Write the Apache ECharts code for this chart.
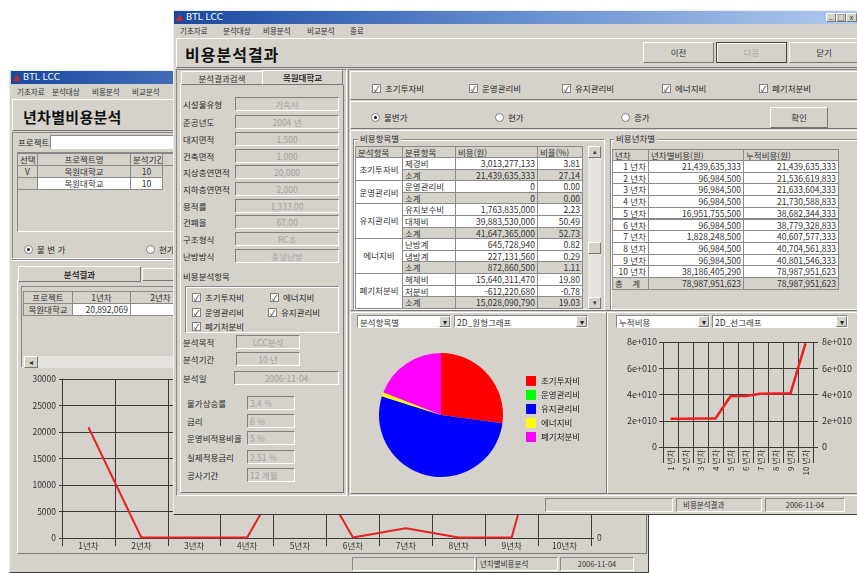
<!DOCTYPE html>
<html lang="ko">
<head>
<meta charset="utf-8">
<title>비용분석결과</title>
<script src="https://cdn.jsdelivr.net/npm/echarts@6/dist/echarts.min.js"></script>
<style>
body{margin:0;width:857px;height:573px;overflow:hidden;position:relative;background:#fff;font-family:"Noto Sans CJK KR","Noto Sans",sans-serif;color:#1e1e1e}
.a{position:absolute;box-sizing:border-box}
.win{background:#d5d2cc;border:1px solid;border-color:#eee #3c3c3c #3c3c3c #eee}
.title{background:linear-gradient(to right,#1a48a0,#5f88cc 45%,#b4cdee);color:#fff;font-size:9px;line-height:13px;padding-left:12px;font-family:"DejaVu Sans",sans-serif}
.sunk{border:1px solid;border-color:#888 #fff #fff #888}
.raise{border:1px solid;border-color:#fff #777 #777 #fff;background:#d5d2cc}
.groove{border-top:1px solid #888;border-bottom:1px solid #fff}
.lbl{font-size:8.5px;white-space:nowrap;color:#2a2a2a}
.menu{font-size:7.5px;white-space:nowrap;color:#333}
.field{border:1px solid;border-color:#808080 #fff #fff #808080;color:#a2a2a2;font-size:8.5px;line-height:12px;white-space:nowrap;overflow:hidden}
.cbx{background:#fff;border:1px solid #808080;font-size:8px;line-height:7px;text-align:center;color:#111}
.rdo{border-radius:50%;background:#fff;border:1px solid #808080}
.rdo i{position:absolute;left:2px;top:2px;width:3px;height:3px;border-radius:50%;background:#111}
.cell{border:1px solid #8a8a8a;padding:0 2px;font-size:8.5px;overflow:hidden;white-space:nowrap;color:#333}
.btn{font-size:8.5px;text-align:center;color:#333}
.gbox{border:1px solid;border-color:#888 #fff #fff #888;box-shadow:inset 1px 1px 0 #fff}
</style>
</head>
<body>
<script>
// ---------- data ----------
const backYears = ['1년차','2년차','3년차','4년차','5년차','6년차','7년차','8년차','9년차','10년차'];
const backValues = [20892, 97, 97, 97, 17500, 97, 1850, 97, 97, 36000];
const backTicks = [0, 5000, 10000, 15000, 20000, 25000, 30000];

const costItems = ['초기투자비','운영관리비','유지관리비','에너지비','폐기처분비'];
const costSubtotals = [21439635333, 0, 41647365000, 872860500, 15028090790];
const pieColors = ['#ff0000','#00ff00','#0000ff','#ffff00','#ff00ff'];

const groupSpans = [2, 2, 3, 3, 3];
const subItems = ['제경비','소계','운영관리비','소계','유지보수비','대체비','소계','난방계','냉방계','소계','해체비','처분비','소계'];
const subCosts = ['3,013,277,133','21,439,635,333','0','0','1,763,835,000','39,883,530,000','41,647,365,000','645,728,940','227,131,560','872,860,500','15,640,311,470','-612,220,680','15,028,090,790'];
const subRatios = ['3.81','27.14','0.00','0.00','2.23','50.49','52.73','0.82','0.29','1.11','19.80','-0.78','19.03'];

const yearLabels = ['1 년차','2 년차','3 년차','4 년차','5 년차','6 년차','7 년차','8 년차','9 년차','10 년차'];
const yearCosts = ['21,439,635,333','96,984,500','96,984,500','96,984,500','16,951,755,500','96,984,500','1,828,248,500','96,984,500','96,984,500','38,186,405,290'];
const cumCosts = [21439635333, 21536619833, 21633604333, 21730588833, 38682344333, 38779328833, 40607577333, 40704561833, 40801546333, 78987951623];
const totalCost = '78,987,951,623';
const cumTicks = ['0','2e+010','4e+010','6e+010','8e+010'];

const infoLabels = ['시설물유형','준공년도','대지면적','건축면적','지상층연면적','지하층연면적','용적률','건폐율','구조형식','난방방식'];
const infoValues = ['기숙사','2004 년','1,500','1,000','20,000','2,000','1,333.00','67.00','RC조','중앙난방'];
const rateLabels = ['물가상승률','금리','운영비적용비율','실제적용금리','공사기간'];
const rateValues = ['3.4 %','6 %','5 %','2.51 %','12 개월'];

// ---------- helpers ----------
const B = document.body;
function el(x,y,w,h,cls,html,css){
  const d=document.createElement('div');
  d.className='a '+(cls||'');
  d.style.cssText='left:'+x+'px;top:'+y+'px;'+(w!=null?'width:'+w+'px;':'')+(h!=null?'height:'+h+'px;':'')+(css||'');
  if(html!=null) d.innerHTML=html;
  B.appendChild(d); return d;
}
function txt(x,yc,s,css,cls){ return el(x,yc-7,null,14,cls||'lbl',s,'line-height:14px;'+(css||'')); }
function field(x,yc,w,s,align){ return el(x,yc-7,w,14,'field',s,'text-align:'+(align||'center')+';'+(align==='left'?'padding-left:2px;':'')); }
function cb(x,yc,s){ el(x,yc-4.5,9,9,'cbx','✓'); txt(x+13,yc,s); }
function rd(x,yc,s,on){ el(x,yc-4.5,9,9,'rdo',on?'<i></i>':''); txt(x+13,yc,s); }
function dd(x,y,w,s){ el(x,y,w,13,'sunk','','background:#fff'); txt(x+3,y+6.5,s,'color:#333'); el(x+w-12,y+1,11,11,'raise','▾','font-size:8px;text-align:center;line-height:9px;color:#222'); }
function btn(x,y,w,h,s,css){ return el(x,y,w,h,'raise btn',s,'line-height:'+(h-2)+'px;'+(css||'')); }
function cell(x1,x2,y,h,s,align,bg,css){ return el(x1,y,x2-x1+1,h+1,'cell',s,'text-align:'+align+';background:'+bg+';line-height:'+(h-1)+'px;'+(css||'')); }
function title(x,y,w){ const t=el(x,y,w,13,'title','BTL LCC'); el(x+2,y+3,7,7,'', '', 'background:#c8281e;clip-path:polygon(50% 0,100% 100%,0 100%)'); return t; }
function menu(y,items,xs){ items.forEach((m,i)=>txt(xs[i],y,m,'',"menu")); }

// ================= BACK WINDOW =================
el(9,70,640,503,'win');
title(11,71,637);
menu(92,['기초자료','분석대상','비용분석','비교분석'],[17,52,92,132]);
el(12,99,635,32,'raise');
txt(23,117,'년차별비용분석','font-size:15px;font-weight:bold;color:#111;letter-spacing:0.3px');
el(12,132,635,127,'sunk');
txt(18,142,'프로젝트');
el(50,135,600,14,'sunk','','background:#fff');
el(17,152,630,80,'sunk');
[[17,37,'선택'],[37,130,'프로젝트명'],[130,162,'분석기간'],[162,200,'']].forEach(c=>cell(c[0],c[1],153,12,c[2],'center','#d5d2cc'));
cell(17,37,165,12,'V','center','#d5d2cc'); cell(37,130,165,12,'목원대학교','center','#d5d2cc'); cell(130,162,165,12,'10','center','#d5d2cc');
cell(17,37,177,12,'','center','#d5d2cc'); cell(37,130,177,12,'목원대학교','center','#fff'); cell(130,162,177,12,'10','center','#fff');
rd(24,249,'불 변 가',true); rd(146,249,'현가',false);
el(12,259,635,2,'groove');
el(17,280,630,274,'raise');
btn(18,266,123,16,'분석결과','font-weight:bold');
btn(142,268,100,13,'');
el(21,286,622,82,'sunk');
cell(23,72,291,12,'프로젝트','center','#d5d2cc'); cell(72,130,291,12,'1년차','center','#d5d2cc'); cell(130,190,291,12,'2년차','center','#d5d2cc');
cell(23,72,303,12,'목원대학교','center','#d5d2cc'); cell(72,130,303,12,'20,892,069','right','#fff'); cell(130,190,303,12,'97,','right','#fff');
el(23,356,618,12,'','', 'background:#e4e2de');
btn(24,356,14,12,'◂','font-size:8px');
const backDiv = el(17,372,628,182,'');
el(11,555,637,17,'');
el(352,557,123,14,'sunk');
el(476,557,82,14,'sunk','년차별비용분석','font-size:7.5px;line-height:12px;padding-left:3px;color:#333');
el(560,557,74,14,'sunk','2006-11-04','font-size:7.5px;line-height:12px;text-align:center;color:#333');

// ================= FRONT WINDOW =================
el(173,10,700,505,'win');
title(174,11,700);
el(826,13,10,9,'raise','_','font-size:7px;line-height:5px;text-align:center');
el(836,13,10,9,'raise','□','font-size:7px;line-height:7px;text-align:center');
el(846,13,11,9,'raise','x','font-size:7px;line-height:7px;text-align:center');
menu(31,['기초자료','분석대상','비용분석','비교분석','종료'],[180,223,263,307,350]);
el(176,38,690,30,'raise');
txt(185,54,'비용분석결과','font-size:16px;font-weight:bold;color:#111;letter-spacing:1px');
btn(643,42,71,21,'이전');
btn(716,42,71,21,'다음','color:#aaa;border:1px solid #444;box-shadow:inset 1px 1px 0 #fff');
btn(789,42,70,21,'닫기');

// left panel
el(176,69,171,427,'sunk');
el(180,84,164,409,'raise');
btn(181,71,82,14,'분석결과검색');
btn(262,70,81,15,'목원대학교','font-weight:bold');
const infoY = [104,122,139,156,172,189,206,222,239,256];
infoLabels.forEach((l,i)=>{ txt(183,infoY[i],l); field(235,infoY[i],104,infoValues[i]); });
txt(183,276,'비용분석항목');
el(185,286,154,47,'gbox');
cb(192,297,'초기투자비'); cb(270,297,'에너지비');
cb(192,312,'운영관리비'); cb(268,312,'유지관리비');
cb(192,326,'폐기처분비');
txt(183,342,'분석목적'); field(236,342,64,'LCC분석');
txt(183,359,'분석기간'); field(236,359,64,'10 년');
txt(183,378,'분석일'); field(234,378,105,'2006-11-04');
const rateY = [403,421,438,457,475];
rateLabels.forEach((l,i)=>{ txt(187,rateY[i],l); field(247,rateY[i],48,rateValues[i],'left'); });

// right panel
el(348,69,515,427,'sunk');
el(350,71,510,29,'raise');
costItems.forEach((c,i)=>cb([372,469,562,662,759][i],88,c));
el(350,101,510,28,'raise');
rd(371,117,'불변가',true); rd(495,117,'현가',false); rd(621,117,'증가',false);
btn(770,107,58,21,'확인');
el(350,130,510,181,'raise');
el(353,139,252,171,'gbox'); txt(358,138,'비용항목별','background:#d5d2cc;padding:0 2px');
el(610,139,252,171,'gbox'); txt(614,138,'비용년차별','background:#d5d2cc;padding:0 2px');

// table 1
const t1x = [355,402,455,537,582];
const t1h = 11.6, t1y0 = 157;
['분석항목','분류항목','비용(원)','비율(%)'].forEach((h,i)=>cell(t1x[i],t1x[i+1],146,11,h,'left','#d5d2cc'));
let r = 0;
groupSpans.forEach((sp,g)=>{
  cell(t1x[0],t1x[1],t1y0+r*t1h,sp*t1h,costItems[g],'center','#fff','line-height:'+(sp*t1h-1)+'px');
  r += sp;
});
subItems.forEach((s,i)=>{
  const bg = s==='소계' ? '#d5d2cc' : '#fff';
  const y = t1y0+i*t1h;
  cell(t1x[1],t1x[2],y,t1h,s,'left',bg);
  cell(t1x[2],t1x[3],y,t1h,subCosts[i],'right',bg);
  cell(t1x[3],t1x[4],y,t1h,subRatios[i],'right',bg);
});
el(588,146,13,163,'','', 'background:#e6e4e0');
btn(588,146,13,12,'▴','font-size:7px;line-height:9px');
btn(588,242,13,12,'');
btn(588,297,13,12,'▾','font-size:7px;line-height:9px');

// table 2
const t2x = [612,648,743,838];
const t2h = 11.7, t2y0 = 160;
['년차','년차별비용(원)','누적비용(원)'].forEach((h,i)=>cell(t2x[i],t2x[i+1],149,11,h,'left','#d5d2cc'));
yearLabels.forEach((l,i)=>{
  const y = t2y0+i*t2h;
  cell(t2x[0],t2x[1],y,t2h,l,'right','#fff');
  cell(t2x[1],t2x[2],y,t2h,yearCosts[i],'right','#fff');
  cell(t2x[2],t2x[3],y,t2h,cumCosts[i].toLocaleString('en-US'),'right','#fff');
});
{ const y = t2y0+10*t2h;
  cell(t2x[0],t2x[1],y,t2h,'총&nbsp;&nbsp;&nbsp;&nbsp;계','left','#d5d2cc');
  cell(t2x[1],t2x[2],y,t2h,totalCost,'right','#d5d2cc');
  cell(t2x[2],t2x[3],y,t2h,totalCost,'right','#d5d2cc'); }

// lower area
el(350,312,257,182,'raise');
el(607,312,253,182,'raise');
dd(357,315,94,'분석항목별'); dd(454,315,134,'2D_원형그래프');
dd(616,315,94,'누적비용'); dd(712,315,136,'2D_선그래프');
const pieDiv = el(352,330,254,162,'');
const lineDiv = el(607,330,250,162,'');

// status bar
el(174,496,700,18,'');
el(545,498,128,14,'sunk');
el(676,498,86,14,'sunk','비용분석결과','font-size:7.5px;line-height:12px;padding-left:6px;color:#333');
el(765,498,80,14,'sunk','2006-11-04','font-size:7.5px;line-height:12px;text-align:center;color:#333');

// ================= CHARTS =================
const FF = '"Noto Sans CJK KR","Noto Sans",sans-serif';
const dark = '#3a3a3a';
const plainFmt = v => String(v);

const backChart = echarts.init(backDiv, null, {renderer:'canvas'});
backChart.setOption({
  animation:false,
  textStyle:{fontFamily:FF},
  grid:{left:45,right:54,top:7,bottom:16},
  xAxis:{type:'category',data:backYears,boundaryGap:true,
    axisLine:{lineStyle:{color:dark}},
    axisTick:{show:true,length:8,lineStyle:{color:dark}},
    splitLine:{show:true,interval:0,lineStyle:{color:dark}},
    axisLabel:{fontSize:8.5,color:'#333',margin:4,interval:0}},
  yAxis:[
    {type:'value',min:backTicks[0],max:backTicks[backTicks.length-1],interval:backTicks[1]-backTicks[0],
     axisLine:{show:true,lineStyle:{color:dark}},axisTick:{show:true,length:3,lineStyle:{color:dark}},
     splitLine:{lineStyle:{color:dark}},axisLabel:{fontSize:8.5,color:'#333',margin:6,formatter:plainFmt}},
    {type:'value',position:'right',min:backTicks[0],max:backTicks[backTicks.length-1],interval:backTicks[1]-backTicks[0],
     axisLine:{show:true,lineStyle:{color:dark}},axisTick:{show:true,length:3,lineStyle:{color:dark}},
     splitLine:{show:false},axisLabel:{fontSize:8.5,color:'#333',margin:6,formatter:plainFmt}}
  ],
  series:[{type:'line',data:backValues,symbol:'none',lineStyle:{color:'#e62222',width:2},itemStyle:{color:'#e62222'}}]
});

const pieChart = echarts.init(pieDiv, null, {renderer:'canvas'});
pieChart.setOption({
  animation:false,
  textStyle:{fontFamily:FF},
  color:pieColors,
  legend:{orient:'vertical',left:169,top:41,itemWidth:10,itemHeight:10,itemGap:4,icon:'rect',
    textStyle:{fontSize:8.5,color:'#222'},data:costItems},
  series:[{type:'pie',center:[89,85],radius:62,startAngle:90,clockwise:true,
    label:{show:false},labelLine:{show:false},emphasis:{disabled:true},
    itemStyle:{borderWidth:0},
    data:costItems.map((n,i)=>({name:n,value:costSubtotals[i]}))}]
});

const lineChart = echarts.init(lineDiv, null, {renderer:'canvas'});
const cumMax = 8e10, cumStep = 2e10;
const cumFmt = v => cumTicks[Math.round(v/cumStep)];
lineChart.setOption({
  animation:false,
  textStyle:{fontFamily:FF},
  grid:{left:56,right:44,top:12,bottom:45},
  xAxis:{type:'category',data:yearLabels,boundaryGap:true,
    axisLine:{lineStyle:{color:dark}},
    axisTick:{show:true,length:16,lineStyle:{color:dark}},
    splitLine:{show:true,interval:0,lineStyle:{color:dark}},
    axisLabel:{rotate:90,fontSize:8,color:'#333',margin:3,interval:0}},
  yAxis:[
    {type:'value',min:0,max:cumMax,interval:cumStep,
     axisLine:{show:false},axisTick:{show:true,length:4,lineStyle:{color:dark}},
     splitLine:{lineStyle:{color:dark}},axisLabel:{fontSize:9,color:'#333',margin:6,formatter:cumFmt}},
    {type:'value',position:'right',min:0,max:cumMax,interval:cumStep,
     axisLine:{show:false},axisTick:{show:true,length:5,lineStyle:{color:dark}},
     splitLine:{show:false},axisLabel:{fontSize:9,color:'#333',margin:9,formatter:cumFmt}}
  ],
  series:[{type:'line',data:cumCosts,symbol:'none',lineStyle:{color:'#ee2020',width:2.5},itemStyle:{color:'#ee2020'}}]
});
</script>
</body>
</html>
